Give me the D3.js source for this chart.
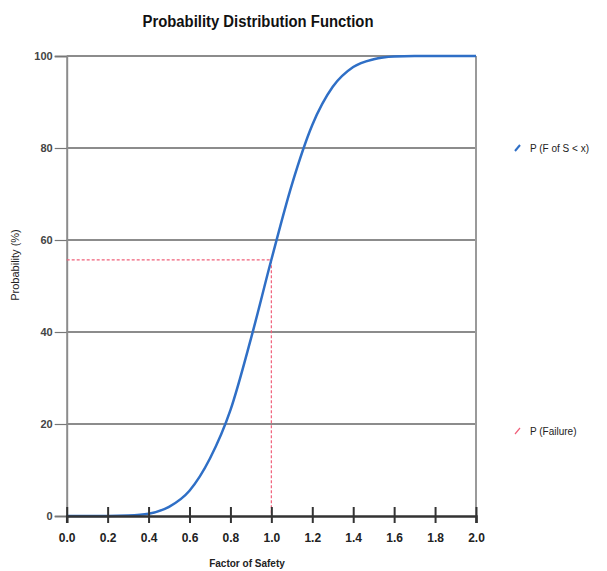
<!DOCTYPE html>
<html><head><meta charset="utf-8">
<script src="https://cdn.jsdelivr.net/npm/d3@7"></script>
<style>body{margin:0;background:#fff}svg{display:block}</style>
</head><body><div id="chart"></div>
<script>
const factorOfSafety = [0.0, 0.2, 0.3, 0.4, 0.5, 0.6, 0.7, 0.8, 0.9, 1.0, 1.1, 1.2, 1.3, 1.4, 1.5, 1.6, 1.7, 2.0];
const probability    = [0,   0,   0.1, 0.5, 2.0, 5.5, 12.5, 23, 38.5, 55.7, 72, 85, 93.3, 97.6, 99.3, 99.9, 100, 100];
const failureFS = 1.0;
const failureP = 55.7;
const xTicks = [0.0, 0.2, 0.4, 0.6, 0.8, 1.0, 1.2, 1.4, 1.6, 1.8, 2.0];
const yTicks = [0, 20, 40, 60, 80, 100];
const legendLabels = ["P (F of S < x)", "P (Failure)"];

const W = 607, H = 571;
const svg = d3.select("#chart").append("svg").attr("width", W).attr("height", H);
const x = d3.scaleLinear().domain([0, 2]).range([66.7, 476]);
const y = d3.scaleLinear().domain([0, 100]).range([516, 56]);
const font = "'Liberation Sans', Arial, sans-serif";

// title
svg.append("text").attr("x", 258).attr("y", 27).attr("text-anchor", "middle")
  .attr("font-family", font).attr("font-weight", "bold").attr("font-size", 16)
  .attr("textLength", 231).attr("lengthAdjust", "spacingAndGlyphs")
  .attr("fill", "#111").text("Probability Distribution Function");

// horizontal gridlines
svg.append("g").selectAll("line").data(yTicks.filter(d => d > 0)).join("line")
  .attr("x1", x(0)).attr("x2", x(2)).attr("y1", d => y(d)).attr("y2", d => y(d))
  .attr("stroke", "#8c8c8c").attr("stroke-width", 2);

// right border
svg.append("line").attr("x1", x(2)).attr("x2", x(2)).attr("y1", y(100)).attr("y2", y(0))
  .attr("stroke", "#9a9a9a").attr("stroke-width", 2);

// y axis
const yAxis = d3.axisLeft(y).tickValues(yTicks).tickSize(12).tickPadding(2).tickFormat(d3.format("d"));
const gy = svg.append("g").attr("transform", `translate(${x(0)},0)`).call(yAxis);
gy.select(".domain").attr("stroke", "#8c8c8c").attr("stroke-width", 2);
gy.selectAll(".tick line").attr("stroke", "#777").attr("stroke-width", 1.2);
gy.selectAll(".tick text").attr("font-family", font).attr("font-size", 11).attr("font-weight", "bold")
  .attr("fill", "#444").attr("dy", "0.32em");

// red dashed failure lines
svg.append("path")
  .attr("d", d3.line()([[x(0), y(failureP)], [x(failureFS), y(failureP)], [x(failureFS), y(0)]]))
  .attr("fill", "none").attr("stroke", "#f0607a").attr("stroke-width", 1.2).attr("stroke-dasharray", "3,2");

// curve
const pts = factorOfSafety.map((d, i) => [d, probability[i]]);
svg.append("path").datum(pts)
  .attr("d", d3.line().x(d => x(d[0])).y(d => y(d[1])).curve(d3.curveMonotoneX))
  .attr("fill", "none").attr("stroke", "#2f6fc6").attr("stroke-width", 2.5);

// x axis
const xAxis = d3.axisBottom(x).tickValues(xTicks).tickSize(7).tickPadding(10).tickFormat(d3.format(".1f"));
const gx = svg.append("g").attr("transform", `translate(0,${y(0)})`).call(xAxis);
gx.select(".domain").attr("stroke", "#333").attr("stroke-width", 2.5);
gx.selectAll(".tick line").attr("y1", -9).attr("y2", 7).attr("stroke", "#333").attr("stroke-width", 2);
gx.selectAll(".tick text").attr("font-family", font).attr("font-size", 12).attr("font-weight", "bold").attr("fill", "#222");

// axis titles
svg.append("text").attr("x", 247).attr("y", 567).attr("text-anchor", "middle")
  .attr("font-family", font).attr("font-size", 10).attr("font-weight", "bold").attr("fill", "#222")
  .text("Factor of Safety");
svg.append("text").attr("transform", "translate(19,265) rotate(-90)").attr("text-anchor", "middle")
  .attr("font-family", font).attr("font-size", 11).attr("fill", "#222")
  .text("Probability (%)");

// legend
const legendColors = ["#2f6fc6", "#f0607a"];
const legendY = [148, 431];
legendLabels.forEach((lab, i) => {
  svg.append("line").attr("x1", 515).attr("y1", legendY[i] + 3).attr("x2", 520).attr("y2", legendY[i] - 3)
    .attr("stroke", legendColors[i]).attr("stroke-width", i === 0 ? 2 : 1.2);
  svg.append("text").attr("x", 530).attr("y", legendY[i]).attr("dy", "0.35em")
    .attr("font-family", font).attr("font-size", 10).attr("fill", "#222").text(lab);
});
</script></body></html>
